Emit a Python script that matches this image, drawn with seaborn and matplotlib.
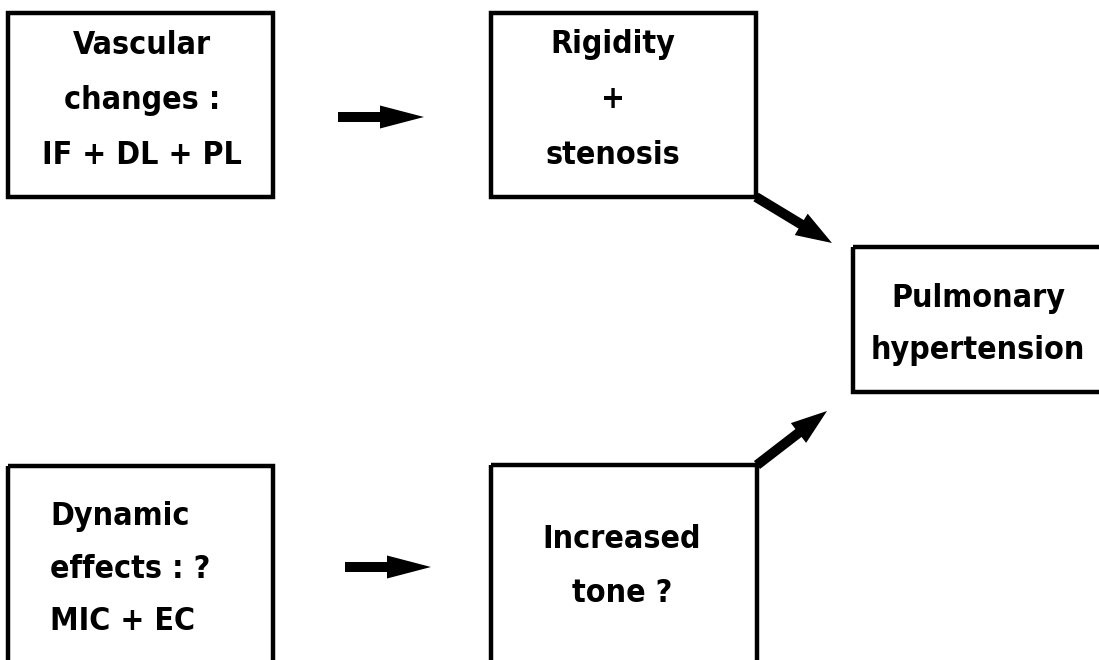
import matplotlib
matplotlib.use("Agg")
import matplotlib.pyplot as plt
import seaborn as sns
from matplotlib.patches import Rectangle

# Flowchart content
box_names = ["vascular", "rigidity", "pulmonary", "dynamic", "tone"]
box_texts = [
    ["Vascular", "changes :", "IF + DL + PL"],
    ["Rigidity", "+", "stenosis"],
    ["Pulmonary", "hypertension"],
    ["Dynamic", "effects : ?", "MIC + EC"],
    ["Increased", "tone ?"],
]
links = [("vascular", "rigidity"), ("rigidity", "pulmonary"),
         ("dynamic", "tone"), ("tone", "pulmonary")]

sns.set_theme(style="white")
plt.rcParams['font.family'] = ['DejaVu Sans']

fig = plt.figure(figsize=(10.99, 6.60), dpi=100)
ax = fig.add_axes([0, 0, 1, 1])
ax.set_xlim(0, 1099)
ax.set_ylim(660, 0)
ax.axis("off")

# layout in pixel units: (x0, y0, x1, y1), text anchor, alignment, line ys
layout = {
    "vascular": dict(rect=(8, 13, 273, 197), tx=142, ha="center", ys=[45, 100, 155]),
    "rigidity": dict(rect=(491, 13, 756, 197), tx=613, ha="center", ys=[45, 100, 155]),
    "pulmonary": dict(rect=(853, 247, 1110, 392), tx=978, ha="center", ys=[298, 350]),
    "dynamic": dict(rect=(8, 466, 273, 670), tx=50, ha="left", ys=[517, 570, 622]),
    "tone": dict(rect=(491, 465, 757, 670), tx=622, ha="center", ys=[540, 593]),
}

for name, lines in zip(box_names, box_texts):
    L = layout[name]
    x0, y0, x1, y1 = L["rect"]
    ax.add_patch(Rectangle((x0, y0), x1 - x0, y1 - y0, fill=False,
                           edgecolor="black", lw=3.2, joinstyle="miter",
                           clip_on=False))
    for t, y in zip(lines, L["ys"]):
        ax.text(L["tx"], y, t, ha=L["ha"], va="center", fontsize=23,
                fontweight="bold", fontstretch="condensed", color="black")

# arrows (pixel coords)
arrow_geom = {
    ("vascular", "rigidity"): ((338, 117), (424, 117), 10, 23, 44),
    ("rigidity", "pulmonary"): ((756, 197), (832, 243), 10, 25, 36),
    ("dynamic", "tone"): ((345, 567), (431, 567), 10, 23, 44),
    ("tone", "pulmonary"): ((757, 465), (827, 411), 10, 25, 36),
}
for link in links:
    (xa, ya), (xb, yb), w, hw, hl = arrow_geom[link]
    ax.arrow(xa, ya, xb - xa, yb - ya, width=w, head_width=hw, head_length=hl,
             length_includes_head=True, color="black", lw=0)

fig.savefig("out.png", dpi=100, facecolor="white")
